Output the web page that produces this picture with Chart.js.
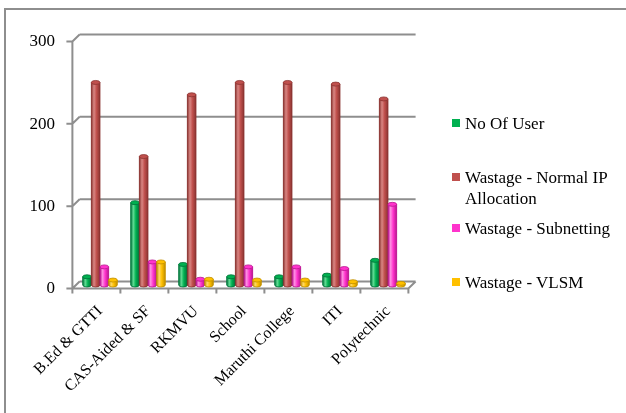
<!DOCTYPE html>
<html>
<head>
<meta charset="utf-8">
<script src="https://cdn.jsdelivr.net/npm/chart.js@4.4.0/dist/chart.umd.min.js"></script>
<style>
  html, body { margin: 0; padding: 0; background: #fff; }
  #wrap { position: relative; width: 626px; height: 413px; overflow: hidden; }
  #frame { position: absolute; left: 4px; top: 8px; width: 640px; height: 420px;
           border-top: 2px solid #8e8e8e; border-left: 2px solid #8e8e8e; }
  #chart { position: absolute; left: 0; top: 0; }
  #legend { position: absolute; left: 452px; top: 0; font-family: "Times New Roman", "Liberation Serif", serif;
            font-size: 17px; color: #000; }
  .item { position: absolute; left: 0; width: 170px; display: flex; align-items: flex-start; line-height: 21px; }
  .box { flex: 0 0 8px; height: 8px; margin-top: 6.5px; margin-right: 5px; }
</style>
</head>
<body>
<div id="wrap">
  <div id="frame"></div>
  <canvas id="chart" width="626" height="413"></canvas>
  <div id="legend"></div>
</div>
<script>
const categories = ['B.Ed & GTTI', 'CAS-Aided & SF', 'RKMVU', 'School', 'Maruthi College', 'ITI', 'Polytechnic'];
const seriesNames = ['No Of User', 'Wastage - Normal IP Allocation', 'Wastage - Subnetting', 'Wastage - VLSM'];
const noOfUser = [10, 100, 25, 10, 10, 12, 30];
const wastageNormal = [246, 156, 231, 246, 246, 244, 226];
const wastageSubnetting = [22, 28, 7, 22, 22, 20, 98];
const wastageVlsm = [6, 28, 7, 6, 6, 4, 2];
const yTicks = [0, 100, 200, 300];

const fontFamily = '"Times New Roman", "Liberation Serif", serif';

// base / light / dark shades for the cylinders
const colors = [
    { base: '#00B050', light: '#5fdc93', dark: '#00723a' },
    { base: '#C0504D', light: '#d98683', dark: '#8a3431' },
    { base: '#FF33CC', light: '#ff8fe3', dark: '#b8168f' },
    { base: '#FFC000', light: '#ffd966', dark: '#c08f00' }
];
const legendTops = [112.5, 166.5, 217.5, 271.5];

const gridColor = '#8e8e8e';
const dx = 3.6, dy = 3.5;

const frame3d = {
    id: 'frame3d',
    beforeDatasetsDraw(chart) {
        const { ctx, chartArea: a, scales: { x, y } } = chart;
        ctx.save();
        ctx.strokeStyle = gridColor;
        ctx.lineWidth = 2;
        ctx.beginPath();
        yTicks.forEach(v => {
            const py = y.getPixelForValue(v);
            // back wall gridline
            ctx.moveTo(a.left + dx, py - dy);
            ctx.lineTo(a.right + dx, py - dy);
            // side wall slant
            ctx.moveTo(a.left - dx, py + dy);
            ctx.lineTo(a.left + dx, py - dy);
            // axis tick
            ctx.moveTo(a.left - dx - 6, py + dy);
            ctx.lineTo(a.left - dx, py + dy);
        });
        // front vertical axis
        ctx.moveTo(a.left - dx, y.getPixelForValue(300) + dy);
        ctx.lineTo(a.left - dx, y.getPixelForValue(0) + dy);
        // floor front edge and right slant
        const by = y.getPixelForValue(0);
        ctx.moveTo(a.left - dx, by + dy);
        ctx.lineTo(a.right - dx, by + dy);
        ctx.lineTo(a.right + dx, by - dy);
        // category ticks
        const n = categories.length;
        for (let i = 0; i <= n; i++) {
            const px = a.left + (a.right - a.left) * i / n - dx;
            ctx.moveTo(px, by + dy);
            ctx.lineTo(px, by + dy + 5);
        }
        ctx.stroke();
        ctx.restore();
    },
    afterDatasetsDraw(chart) {
        const ctx = chart.ctx;
        ctx.save();
        chart.data.datasets.forEach((ds, di) => {
            const c = colors[di];
            chart.getDatasetMeta(di).data.forEach(el => {
                const { x, y, base, width } = el.getProps(['x', 'y', 'base', 'width'], true);
                const l = x - width / 2, r = x + width / 2, ry = 2;
                const g = ctx.createLinearGradient(l, 0, r, 0);
                g.addColorStop(0, c.dark);
                g.addColorStop(0.3, c.light);
                g.addColorStop(0.6, c.base);
                g.addColorStop(1, c.dark);
                ctx.fillStyle = g;
                ctx.beginPath();
                ctx.moveTo(l, y);
                ctx.lineTo(l, base);
                ctx.ellipse(x, base, width / 2, ry, 0, Math.PI, 0, true);
                ctx.lineTo(r, y);
                ctx.closePath();
                ctx.fill();
                ctx.strokeStyle = c.dark;
                ctx.lineWidth = 0.8;
                ctx.stroke();
                ctx.beginPath();
                ctx.ellipse(x, y, width / 2, ry, 0, 0, Math.PI * 2);
                ctx.fillStyle = c.base;
                ctx.fill();
                ctx.stroke();
            });
        });
        ctx.restore();
    }
};

const seriesValues = [noOfUser, wastageNormal, wastageSubnetting, wastageVlsm];

new Chart(document.getElementById('chart'), {
    type: 'bar',
    data: {
        labels: categories,
        datasets: seriesNames.map((name, i) => ({
            label: name,
            data: seriesValues[i],
            backgroundColor: colors[i].base,
            borderWidth: 0,
            barPercentage: 1,
            categoryPercentage: 0.72
        }))
    },
    options: {
        responsive: false,
        animation: false,
        events: [],
        layout: { padding: { top: 38, right: 214, left: 0, bottom: 0 } },
        plugins: { legend: { display: false }, tooltip: { enabled: false } },
        scales: {
            x: {
                grid: { display: false },
                border: { display: false },
                ticks: {
                    minRotation: 45, maxRotation: 45, padding: 9,
                    color: '#000',
                    font: { family: fontFamily, size: 16 }
                },
                afterFit: s => { s.height = 128; }
            },
            y: {
                min: 0, max: 300,
                afterBuildTicks: s => { s.ticks = yTicks.map(v => ({ value: v })); },
                grid: { display: false, drawTicks: false },
                border: { display: false },
                ticks: {
                    padding: 21, labelOffset: 4,
                    color: '#000',
                    font: { family: fontFamily, size: 17 }
                },
                afterFit: s => { s.width = 76; }
            }
        }
    },
    plugins: [frame3d]
});

const legend = document.getElementById('legend');
seriesNames.forEach((name, i) => {
    const item = document.createElement('div');
    item.className = 'item';
    item.style.top = legendTops[i] + 'px';
    const box = document.createElement('span');
    box.className = 'box';
    box.style.background = colors[i].base;
    const txt = document.createElement('span');
    txt.textContent = name;
    txt.style.width = '155px';
    item.appendChild(box);
    item.appendChild(txt);
    legend.appendChild(item);
});
</script>
</body>
</html>
